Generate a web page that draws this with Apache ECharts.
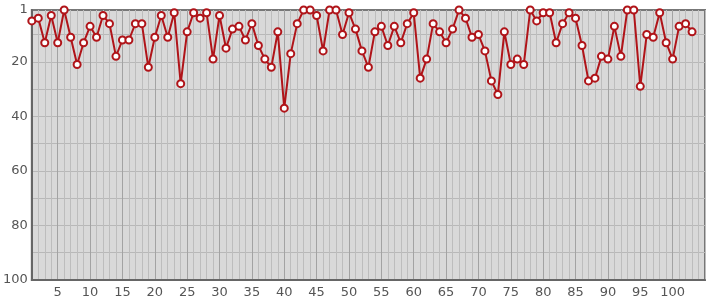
<!DOCTYPE html>
<html><head><meta charset="utf-8">
<script src="https://cdn.jsdelivr.net/npm/echarts@6/dist/echarts.min.js"></script>
<style>html,body{margin:0;padding:0;background:#fff}#c{width:715px;height:300px}</style>
</head><body><div id="c"></div>
<script>
// x positions 1..105 (axis slots), y levels 1..100 (rank scale)
const xCategories = Array.from({length: 105}, (_, i) => String(i + 1));
const yLevels = Array.from({length: 100}, (_, i) => String(i + 1));
const xTickLabels = ['5','10','15','20','25','30','35','40','45','50','55','60','65','70','75','80','85','90','95','100'];
const yTickLabels = ['1','20','40','60','80','100'];
const ranks = [
  5,4,13,3,13,1,11,21,13,7,
  11,3,6,18,12,12,6,6,22,11,
  3,11,2,28,9,2,4,2,19,3,
  15,8,7,12,6,14,19,22,9,37,
  17,6,1,1,3,16,1,1,10,2,
  8,16,22,9,7,14,7,13,6,2,
  26,19,6,9,13,8,1,4,11,10,
  16,27,32,9,21,19,21,1,5,2,
  2,13,6,2,4,14,27,26,18,19,
  7,18,1,1,29,10,11,2,13,19,
  7,6,9
];

const chart = echarts.init(document.getElementById('c'), null, {renderer: 'canvas'});
const labelFont = {color: '#555', fontSize: 13, fontFamily: 'DejaVu Sans'};
chart.setOption({
  animation: false,
  backgroundColor: '#fff',
  grid: {left: 25, right: 10, top: 10, bottom: 20, show: true, backgroundColor: '#d9d9d9', borderColor: '#777', borderWidth: 2},
  xAxis: [
    {type: 'category', data: xCategories, boundaryGap: false,
     axisLine: {show: true, lineStyle: {color: '#666', width: 2}},
     axisTick: {show: false},
     axisLabel: Object.assign({interval: (i, v) => xTickLabels.includes(v), margin: 6}, labelFont),
     splitLine: {show: true, interval: 0, lineStyle: {color: '#bdbdbd', width: 1}}},
    {type: 'category', data: xCategories, boundaryGap: false, position: 'bottom',
     axisLine: {show: false}, axisTick: {show: false}, axisLabel: {show: false},
     splitLine: {show: true, interval: (i, v) => xTickLabels.includes(v), lineStyle: {color: '#a3a3a3', width: 1}}}
  ],
  yAxis: [
    {type: 'value', min: 1, max: 100, inverse: true, show: false, splitLine: {show: false}},
    {type: 'category', data: yLevels, boundaryGap: false, inverse: true, position: 'left',
     axisLine: {show: true, lineStyle: {color: '#666', width: 2}},
     axisTick: {show: false},
     axisLabel: Object.assign({interval: (i, v) => yTickLabels.includes(v), margin: 4}, labelFont),
     splitLine: {show: true, interval: (i, v) => Number(v) % 10 === 0, lineStyle: {color: '#b8b8b8', width: 1}}}
  ],
  series: [{
    type: 'line', xAxisIndex: 0, yAxisIndex: 0, data: ranks,
    symbol: 'emptyCircle', symbolSize: 7, showAllSymbol: true,
    lineStyle: {color: '#b01419', width: 2},
    itemStyle: {color: '#b01419', borderWidth: 2}
  }]
});
</script></body></html>
